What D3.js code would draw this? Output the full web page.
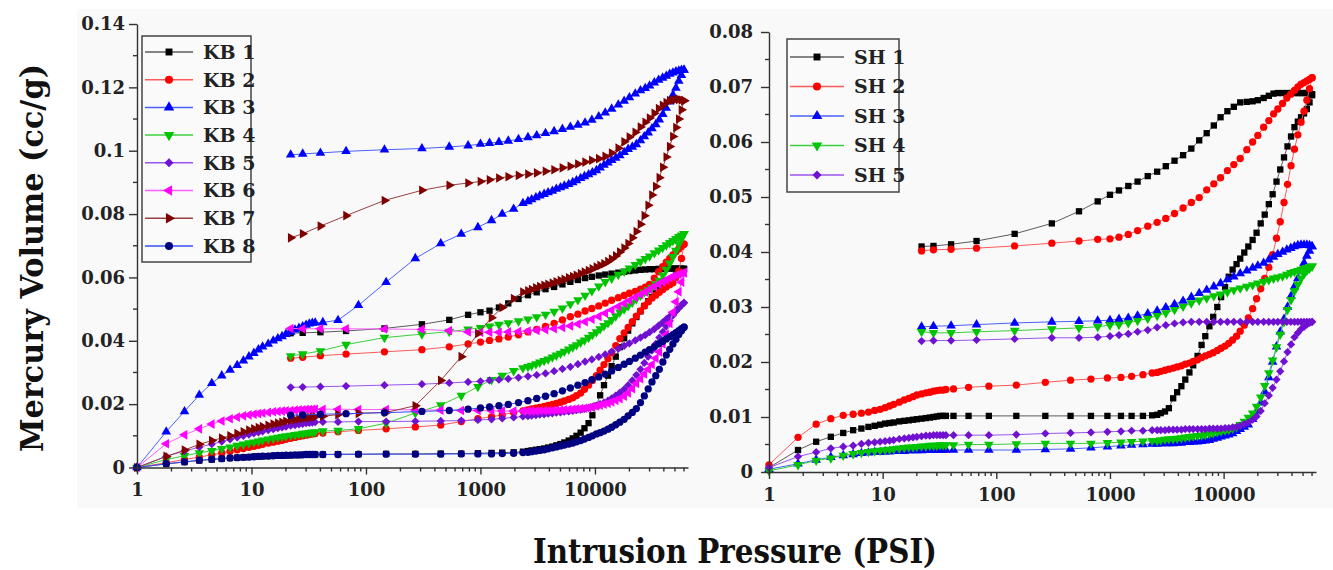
<!DOCTYPE html>
<html><head><meta charset="utf-8">
<script src="https://cdn.jsdelivr.net/npm/d3@7"></script>
<style>body{margin:0;background:#fff}</style>
</head><body>
<script>
// ---------- DATA ----------
// Intrusion pressures (psi), ascending
const P_IN = [1, 1.8, 2.6, 3.5, 4.5, 5.5, 6.5, 7.5, 8.5, 9.5, 10.5, 11.5, 12.5, 14, 15.5, 17, 18.5, 20, 22, 24, 26, 28, 30, 32, 34, 36,
  42, 57, 86, 150, 270, 450, 680, 950, 1250, 1550, 1950,
  2350, 2600, 2800, 3050, 3300, 3600, 3900, 4250, 4600, 5000, 5400, 5900, 6400, 6900, 7500, 8100, 8800, 9500, 10300, 11100, 12000,
  13000, 14000, 15200, 16500, 18000, 19500, 21200, 23000, 25000, 27000, 29200, 31500, 34000, 36500, 39200, 42000, 45000, 48000, 51000, 54000, 57000, 60000];
// Extrusion pressures (psi), descending
const P_EX = [60000, 57000, 54000, 51000, 48000, 45000, 42000, 39000, 36000, 33000, 30000, 27500, 25000, 22500, 20000, 18000, 16000, 14000, 12300, 10800,
  9400, 8200, 7100, 6100, 5200, 4400, 3700, 3100, 2600, 2150, 1750, 1450, 1200, 1000, 780, 534, 308, 145, 67, 40, 28, 22];

const KB_NAMES = ["KB 1", "KB 2", "KB 3", "KB 4", "KB 5", "KB 6", "KB 7", "KB 8"];
const SH_NAMES = ["SH 1", "SH 2", "SH 3", "SH 4", "SH 5"];

const KB1_IN = [0, 0.0011, 0.0017, 0.0022, 0.0025, 0.0028, 0.003, 0.0031, 0.0032, 0.0033, 0.0034, 0.0035, 0.0035, 0.0036, 0.0037, 0.0037, 0.0038, 0.0038, 0.0039, 0.0039, 0.0039, 0.004, 0.004, 0.004, 0.004, 0.0041,
  0.0041, 0.0042, 0.0042, 0.0043, 0.0043, 0.0044, 0.0044, 0.0045, 0.0046, 0.0047, 0.0048,
  0.005, 0.0052, 0.0054, 0.0056, 0.0058, 0.006, 0.0063, 0.0066, 0.007, 0.0074, 0.0079, 0.0085, 0.0092, 0.01, 0.011, 0.0124, 0.014, 0.0165, 0.0195, 0.0228, 0.026,
  0.029, 0.032, 0.035, 0.038, 0.0408, 0.0432, 0.0455, 0.0475, 0.0493, 0.051, 0.0525, 0.0538, 0.055, 0.056, 0.057, 0.058, 0.059, 0.0598, 0.0606, 0.0613, 0.062, 0.0627];
const KB1_EX = [0.0627, 0.0628, 0.0628, 0.0628, 0.0628, 0.0628, 0.0628, 0.0627, 0.0627, 0.0626, 0.0626, 0.0625, 0.0624, 0.0622, 0.062, 0.0618, 0.0615, 0.0612, 0.0609, 0.0606,
  0.0602, 0.0598, 0.0592, 0.0586, 0.0578, 0.057, 0.0563, 0.0553, 0.0544, 0.0532, 0.0518, 0.0505, 0.0495, 0.049, 0.0482, 0.0466, 0.0452, 0.0439, 0.0431, 0.0427, 0.0425, 0.0424];

const KB2_IN = [0, 0.0015, 0.0025, 0.0033, 0.004, 0.0046, 0.0051, 0.0056, 0.006, 0.0064, 0.0067, 0.007, 0.0073, 0.0077, 0.008, 0.0083, 0.0086, 0.0089, 0.0092, 0.0095, 0.0098, 0.01, 0.0102, 0.0104, 0.0106, 0.0107,
  0.0109, 0.0113, 0.0117, 0.0122, 0.0128, 0.0134, 0.0145, 0.0154, 0.016, 0.0166, 0.0174,
  0.0179, 0.0182, 0.0185, 0.0187, 0.019, 0.0193, 0.0196, 0.0199, 0.0202, 0.0206, 0.021, 0.0215, 0.022, 0.0227, 0.0235, 0.0247, 0.026, 0.0275, 0.029, 0.0307, 0.0325,
  0.0343, 0.0362, 0.0385, 0.0407, 0.0425, 0.0442, 0.046, 0.0478, 0.0494, 0.051, 0.0523, 0.0535, 0.0544, 0.0553, 0.0562, 0.057, 0.0577, 0.0583, 0.06, 0.062, 0.066, 0.0705];
const KB2_EX = [0.0705, 0.0698, 0.069, 0.0681, 0.0671, 0.066, 0.0648, 0.0634, 0.0618, 0.0598, 0.0578, 0.0569, 0.0563, 0.0556, 0.055, 0.0543, 0.0536, 0.0528, 0.0519, 0.051,
  0.0502, 0.0494, 0.0484, 0.0476, 0.0466, 0.0455, 0.0445, 0.0436, 0.0428, 0.0419, 0.0412, 0.0406, 0.0401, 0.0396, 0.039, 0.0381, 0.0372, 0.0365, 0.0358, 0.0353, 0.0348, 0.0345];

const KB3_IN = [0, 0.0113, 0.0177, 0.0229, 0.0266, 0.029, 0.0308, 0.0323, 0.0337, 0.035, 0.0361, 0.0372, 0.0381, 0.039, 0.04, 0.0407, 0.0414, 0.0421, 0.0428, 0.0435, 0.044, 0.0445, 0.045, 0.0454, 0.0456, 0.0457,
  0.0458, 0.0465, 0.0512, 0.0585, 0.066, 0.0707, 0.0737, 0.0758, 0.078, 0.08, 0.0816,
  0.0834, 0.084, 0.0846, 0.0852, 0.0858, 0.0863, 0.0868, 0.0873, 0.0879, 0.0884, 0.0889, 0.0894, 0.09, 0.0906, 0.0913, 0.0919, 0.0925, 0.0931, 0.0938, 0.0946, 0.0955,
  0.0962, 0.097, 0.0977, 0.0985, 0.0995, 0.1005, 0.1012, 0.102, 0.1032, 0.1045, 0.1057, 0.107, 0.1083, 0.1098, 0.1115, 0.1135, 0.1155, 0.1176, 0.1198, 0.122, 0.1238, 0.1255];
const KB3_EX = [0.1255, 0.1255, 0.1252, 0.125, 0.1246, 0.1242, 0.1236, 0.123, 0.1223, 0.1215, 0.1205, 0.1197, 0.119, 0.118, 0.1168, 0.1157, 0.1145, 0.1132, 0.112, 0.1108,
  0.1097, 0.1088, 0.1081, 0.1075, 0.1068, 0.1061, 0.1055, 0.1048, 0.1042, 0.1036, 0.1031, 0.1027, 0.1024, 0.1021, 0.1016, 0.1012, 0.1007, 0.1003, 0.0998, 0.0993, 0.099, 0.0987];

const KB4_IN = [0, 0.0025, 0.0037, 0.0046, 0.0053, 0.0059, 0.0064, 0.0069, 0.0073, 0.0077, 0.008, 0.0083, 0.0086, 0.0089, 0.0092, 0.0095, 0.0097, 0.0099, 0.0101, 0.0103, 0.0105, 0.0107, 0.0108, 0.011, 0.0111, 0.0112,
  0.0115, 0.0117, 0.0122, 0.014, 0.0172, 0.0197, 0.0227, 0.0255, 0.0277, 0.029, 0.0305,
  0.0314, 0.0318, 0.0322, 0.0327, 0.0332, 0.0337, 0.0342, 0.0348, 0.0354, 0.036, 0.0366, 0.0373, 0.038, 0.0387, 0.0395, 0.0402, 0.041, 0.0419, 0.0428, 0.0437, 0.0447,
  0.0456, 0.0466, 0.0478, 0.049, 0.05, 0.051, 0.0521, 0.0532, 0.0543, 0.0553, 0.056, 0.0568, 0.0579, 0.059, 0.0607, 0.0625, 0.0645, 0.0665, 0.0685, 0.0705, 0.0722, 0.0738];
const KB4_EX = [0.0738, 0.0733, 0.0728, 0.0722, 0.0716, 0.0709, 0.0702, 0.0694, 0.0686, 0.0677, 0.0667, 0.0659, 0.065, 0.064, 0.0629, 0.0619, 0.0609, 0.0597, 0.0586, 0.0572,
  0.0557, 0.0543, 0.0529, 0.0516, 0.0503, 0.0492, 0.0483, 0.0475, 0.0468, 0.0462, 0.0456, 0.0451, 0.0446, 0.0441, 0.0436, 0.0429, 0.0421, 0.041, 0.0388, 0.0368, 0.0358, 0.0352];

const KB5_IN = [0, 0.0035, 0.0052, 0.0064, 0.0074, 0.0082, 0.0089, 0.0095, 0.01, 0.0104, 0.0108, 0.0111, 0.0114, 0.0118, 0.0121, 0.0124, 0.0127, 0.0129, 0.0132, 0.0134, 0.0136, 0.0138, 0.014, 0.0141, 0.0142, 0.0143,
  0.0144, 0.0144, 0.0145, 0.0145, 0.0146, 0.0147, 0.0148, 0.015, 0.0152, 0.0155, 0.0158,
  0.0161, 0.0162, 0.0164, 0.0165, 0.0167, 0.0168, 0.017, 0.0171, 0.0173, 0.0174, 0.0176, 0.0177, 0.0179, 0.0181, 0.0183, 0.0185, 0.0188, 0.0191, 0.0195, 0.02, 0.0205,
  0.0211, 0.0218, 0.0227, 0.0236, 0.0247, 0.026, 0.0275, 0.0292, 0.031, 0.033, 0.035, 0.037, 0.039, 0.041, 0.0428, 0.0445, 0.0463, 0.048, 0.0493, 0.0505, 0.0513, 0.052];
const KB5_EX = [0.052, 0.0512, 0.0503, 0.0495, 0.0486, 0.0477, 0.0468, 0.0458, 0.0448, 0.0437, 0.0427, 0.0418, 0.041, 0.0401, 0.0392, 0.0384, 0.0375, 0.0366, 0.0357, 0.0349,
  0.0341, 0.0334, 0.0326, 0.0318, 0.0311, 0.0304, 0.0297, 0.0292, 0.0288, 0.0284, 0.028, 0.0277, 0.0275, 0.0272, 0.027, 0.0267, 0.0263, 0.026, 0.0257, 0.0255, 0.0254, 0.0253];

const KB6_IN = [0, 0.0075, 0.0103, 0.0122, 0.0137, 0.0147, 0.0154, 0.0159, 0.0163, 0.0166, 0.0168, 0.017, 0.0172, 0.0174, 0.0176, 0.0177, 0.0178, 0.0179, 0.018, 0.0181, 0.0182, 0.0182, 0.0183, 0.0183, 0.0184, 0.0184,
  0.0184, 0.0184, 0.0183, 0.0183, 0.0182, 0.0181, 0.018, 0.018, 0.0179, 0.0178, 0.0178,
  0.0178, 0.0178, 0.0178, 0.0178, 0.0179, 0.0179, 0.018, 0.018, 0.0181, 0.0181, 0.0182, 0.0183, 0.0184, 0.0185, 0.0186, 0.0187, 0.0189, 0.0191, 0.0194, 0.0197, 0.02,
  0.0203, 0.0207, 0.0212, 0.0217, 0.0225, 0.0235, 0.0249, 0.0265, 0.028, 0.0295, 0.031, 0.0325, 0.0345, 0.0365, 0.039, 0.042, 0.0455, 0.049, 0.0523, 0.0555, 0.0585, 0.0615];
const KB6_EX = [0.0615, 0.0613, 0.061, 0.0607, 0.0603, 0.0598, 0.0592, 0.0586, 0.0579, 0.0571, 0.0562, 0.0554, 0.0546, 0.0537, 0.0527, 0.0518, 0.0508, 0.0497, 0.0487, 0.0477,
  0.0468, 0.046, 0.0453, 0.0447, 0.0442, 0.0438, 0.0435, 0.0433, 0.0431, 0.0429, 0.0428, 0.0427, 0.0427, 0.0427, 0.0428, 0.0432, 0.0436, 0.0437, 0.0438, 0.0438, 0.0438, 0.0439];

const KB7_IN = [0, 0.0035, 0.0055, 0.0073, 0.0085, 0.0093, 0.01, 0.0107, 0.0113, 0.0118, 0.0122, 0.0126, 0.0129, 0.0133, 0.0137, 0.014, 0.0143, 0.0146, 0.0149, 0.0151, 0.0153, 0.0155, 0.0157, 0.0158, 0.0159, 0.016,
  0.0162, 0.0167, 0.0171, 0.0174, 0.0195, 0.0275, 0.035, 0.0423, 0.0473, 0.0505, 0.0533,
  0.0554, 0.0558, 0.0562, 0.0567, 0.0571, 0.0575, 0.0578, 0.0582, 0.0586, 0.059, 0.0594, 0.0599, 0.0603, 0.0607, 0.0612, 0.0617, 0.0622, 0.0627, 0.0633, 0.0638, 0.0643,
  0.065, 0.0658, 0.0668, 0.068, 0.0693, 0.0707, 0.0725, 0.0745, 0.0768, 0.0795, 0.0828, 0.086, 0.0887, 0.0915, 0.0948, 0.098, 0.1013, 0.1045, 0.1073, 0.11, 0.1129, 0.1158];
const KB7_EX = [0.1158, 0.116, 0.1162, 0.1162, 0.116, 0.1158, 0.1152, 0.1143, 0.1133, 0.1118, 0.1103, 0.109, 0.1075, 0.1058, 0.1043, 0.1028, 0.1008, 0.0993, 0.0982, 0.0975,
  0.097, 0.0964, 0.0958, 0.0951, 0.0946, 0.094, 0.0935, 0.093, 0.0926, 0.0922, 0.0918, 0.0914, 0.0908, 0.0903, 0.0898, 0.0891, 0.0875, 0.0843, 0.0795, 0.0762, 0.0738, 0.0725];

const KB8_IN = [0, 0.0012, 0.0018, 0.0023, 0.0026, 0.0028, 0.003, 0.0031, 0.0032, 0.0033, 0.0034, 0.0035, 0.0036, 0.0036, 0.0037, 0.0038, 0.0038, 0.0039, 0.0039, 0.004, 0.004, 0.004, 0.0041, 0.0041, 0.0041, 0.0041,
  0.0041, 0.0041, 0.0042, 0.0042, 0.0042, 0.0042, 0.0043, 0.0043, 0.0043, 0.0044, 0.0045,
  0.0047, 0.0048, 0.005, 0.0052, 0.0054, 0.0056, 0.0059, 0.0062, 0.0065, 0.0068, 0.0071, 0.0074, 0.0077, 0.0081, 0.0085, 0.009, 0.0095, 0.01, 0.0106, 0.011, 0.0115,
  0.0121, 0.0127, 0.0135, 0.0143, 0.0152, 0.0163, 0.0174, 0.0186, 0.0205, 0.0226, 0.0248, 0.027, 0.029, 0.031, 0.0333, 0.0355, 0.0373, 0.039, 0.0405, 0.042, 0.0432, 0.0443];
const KB8_EX = [0.0443, 0.0438, 0.0432, 0.0426, 0.0419, 0.0413, 0.0406, 0.0398, 0.039, 0.0381, 0.0372, 0.0364, 0.0355, 0.0345, 0.0335, 0.0326, 0.0316, 0.0305, 0.0295, 0.0286,
  0.0277, 0.0268, 0.026, 0.0251, 0.0242, 0.0233, 0.0225, 0.0218, 0.0211, 0.0205, 0.0199, 0.0195, 0.0191, 0.0188, 0.0184, 0.018, 0.0177, 0.0173, 0.017, 0.0168, 0.0166, 0.0165];

const SH1_IN = [0.0008, 0.004, 0.0055, 0.0064, 0.0071, 0.0076, 0.0079, 0.0082, 0.0084, 0.0086, 0.0088, 0.0089, 0.009, 0.0092, 0.0093, 0.0094, 0.0095, 0.0096, 0.0097, 0.0098, 0.0099, 0.01, 0.0101, 0.0102, 0.0102, 0.0102,
  0.0102, 0.0102, 0.0102, 0.0102, 0.0102, 0.0102, 0.0102, 0.0102, 0.0102, 0.0102, 0.0102,
  0.0103, 0.0104, 0.0107, 0.011, 0.0116, 0.0134, 0.0145, 0.0156, 0.0168, 0.0181, 0.0194, 0.0211, 0.0231, 0.0247, 0.0265, 0.0282, 0.03, 0.0318, 0.0336, 0.0355, 0.0368,
  0.0378, 0.0388, 0.0399, 0.041, 0.0422, 0.0435, 0.0452, 0.0468, 0.0487, 0.0505, 0.0528, 0.055, 0.0572, 0.0592, 0.061, 0.0627, 0.0637, 0.0645, 0.0652, 0.066, 0.0672, 0.0685];
const SH1_EX = [0.0687, 0.0688, 0.0689, 0.0689, 0.0689, 0.0689, 0.0689, 0.0689, 0.0689, 0.0689, 0.0689, 0.0688, 0.0684, 0.068, 0.0676, 0.0674, 0.0673, 0.0672, 0.0664, 0.0656,
  0.0645, 0.063, 0.0616, 0.0603, 0.0588, 0.0576, 0.0566, 0.0556, 0.0546, 0.0538, 0.0528, 0.052, 0.0512, 0.0504, 0.0492, 0.0474, 0.0452, 0.0433, 0.042, 0.0414, 0.0411, 0.041];

const SH2_IN = [0.0013, 0.0063, 0.0087, 0.0097, 0.0103, 0.0105, 0.0107, 0.0109, 0.0112, 0.0114, 0.0117, 0.012, 0.0123, 0.0127, 0.0131, 0.0134, 0.0137, 0.014, 0.0142, 0.0144, 0.0145, 0.0147, 0.0148, 0.0149, 0.0149, 0.015,
  0.0151, 0.0154, 0.0156, 0.0158, 0.0163, 0.0167, 0.0169, 0.0171, 0.0172, 0.0174, 0.0177,
  0.018, 0.0181, 0.0183, 0.0185, 0.0187, 0.0189, 0.0191, 0.0193, 0.0196, 0.0198, 0.0201, 0.0204, 0.0208, 0.0211, 0.0214, 0.0217, 0.0221, 0.0225, 0.0229, 0.0234, 0.024,
  0.0247, 0.0256, 0.0267, 0.028, 0.0297, 0.0315, 0.0333, 0.0352, 0.0372, 0.0395, 0.0425, 0.0455, 0.049, 0.0523, 0.0557, 0.0587, 0.0613, 0.0636, 0.0656, 0.0676, 0.0697, 0.0717];
const SH2_EX = [0.0717, 0.0714, 0.0711, 0.0708, 0.0705, 0.07, 0.0694, 0.0687, 0.068, 0.067, 0.066, 0.0651, 0.0639, 0.0627, 0.0612, 0.06, 0.0586, 0.057, 0.0559, 0.0548,
  0.0535, 0.0524, 0.0513, 0.0499, 0.049, 0.048, 0.047, 0.0461, 0.0454, 0.0447, 0.0439, 0.0432, 0.0427, 0.0424, 0.0423, 0.042, 0.0416, 0.0411, 0.0407, 0.0405, 0.0404, 0.0402];

const SH3_IN = [0.0005, 0.0015, 0.0022, 0.0027, 0.003, 0.0032, 0.0034, 0.0035, 0.0036, 0.0036, 0.0037, 0.0037, 0.0038, 0.0038, 0.0038, 0.0039, 0.0039, 0.0039, 0.0039, 0.004, 0.004, 0.004, 0.004, 0.004, 0.004, 0.004,
  0.004, 0.004, 0.004, 0.004, 0.0041, 0.0042, 0.0044, 0.0046, 0.0048, 0.0049, 0.005,
  0.0051, 0.0051, 0.0052, 0.0052, 0.0052, 0.0052, 0.0053, 0.0053, 0.0054, 0.0054, 0.0055, 0.0055, 0.0056, 0.0057, 0.0058, 0.006, 0.0062, 0.0064, 0.0066, 0.0068, 0.007,
  0.0074, 0.0078, 0.0082, 0.0086, 0.0096, 0.011, 0.0126, 0.0146, 0.0172, 0.02, 0.0228, 0.0255, 0.0278, 0.03, 0.032, 0.0337, 0.0352, 0.0367, 0.038, 0.0393, 0.0402, 0.041];
const SH3_EX = [0.041, 0.0412, 0.0413, 0.0413, 0.0413, 0.0412, 0.041, 0.0407, 0.0404, 0.04, 0.0396, 0.0391, 0.0386, 0.038, 0.0375, 0.0371, 0.0366, 0.0361, 0.0355, 0.035,
  0.0343, 0.0337, 0.0331, 0.0325, 0.0318, 0.0311, 0.0305, 0.0299, 0.0293, 0.0288, 0.0284, 0.028, 0.0278, 0.0276, 0.0275, 0.0274, 0.0273, 0.0271, 0.0268, 0.0266, 0.0265, 0.0264];

const SH4_IN = [0.0002, 0.0013, 0.0021, 0.0025, 0.003, 0.0033, 0.0035, 0.0037, 0.0038, 0.0039, 0.004, 0.0041, 0.0042, 0.0043, 0.0044, 0.0045, 0.0045, 0.0046, 0.0047, 0.0047, 0.0048, 0.0048, 0.0048, 0.0049, 0.0049, 0.0049,
  0.0049, 0.005, 0.005, 0.0051, 0.0052, 0.0052, 0.0052, 0.0053, 0.0054, 0.0055, 0.0056,
  0.0057, 0.0057, 0.0058, 0.0059, 0.006, 0.006, 0.0061, 0.0062, 0.0063, 0.0064, 0.0065, 0.0066, 0.0067, 0.0068, 0.007, 0.0071, 0.0073, 0.0074, 0.0076, 0.0077, 0.0079,
  0.0082, 0.0086, 0.0092, 0.0099, 0.0107, 0.0119, 0.0136, 0.0157, 0.018, 0.0203, 0.0227, 0.025, 0.0273, 0.0295, 0.0313, 0.0329, 0.0341, 0.0352, 0.036, 0.0366, 0.037, 0.0374];
const SH4_EX = [0.0374, 0.0373, 0.0371, 0.037, 0.0368, 0.0366, 0.0364, 0.0362, 0.0359, 0.0356, 0.0354, 0.0352, 0.0349, 0.0346, 0.0343, 0.034, 0.0337, 0.0334, 0.0331, 0.0327,
  0.0323, 0.032, 0.0316, 0.0312, 0.0307, 0.0301, 0.0295, 0.0289, 0.0284, 0.0279, 0.0275, 0.0271, 0.0268, 0.0267, 0.0264, 0.0262, 0.026, 0.0257, 0.0255, 0.0253, 0.0253, 0.0255];

const SH5_IN = [0.0008, 0.0028, 0.0036, 0.0043, 0.0046, 0.0048, 0.0051, 0.0053, 0.0054, 0.0055, 0.0056, 0.0057, 0.0058, 0.006, 0.0061, 0.0062, 0.0063, 0.0064, 0.0065, 0.0066, 0.0066, 0.0067, 0.0067, 0.0067, 0.0067, 0.0067,
  0.0067, 0.0067, 0.0067, 0.0068, 0.007, 0.0071, 0.0072, 0.0073, 0.0074, 0.0075, 0.0075,
  0.0076, 0.0076, 0.0076, 0.0076, 0.0077, 0.0077, 0.0077, 0.0077, 0.0078, 0.0078, 0.0078, 0.0078, 0.0078, 0.0078, 0.0079, 0.0079, 0.0079, 0.0079, 0.008, 0.008, 0.0081,
  0.0082, 0.0084, 0.0087, 0.009, 0.0095, 0.0101, 0.0111, 0.0125, 0.0139, 0.0153, 0.0168, 0.0183, 0.0201, 0.0218, 0.0232, 0.0245, 0.0253, 0.026, 0.0264, 0.0268, 0.0271, 0.0273];
const SH5_EX = [0.0273, 0.0273, 0.0273, 0.0273, 0.0273, 0.0273, 0.0273, 0.0273, 0.0273, 0.0273, 0.0273, 0.0273, 0.0273, 0.0273, 0.0273, 0.0273, 0.0273, 0.0273, 0.0273, 0.0273,
  0.0273, 0.0273, 0.0273, 0.0273, 0.0273, 0.0272, 0.027, 0.0267, 0.0263, 0.0258, 0.0255, 0.0251, 0.0249, 0.0247, 0.0245, 0.0244, 0.0244, 0.0242, 0.024, 0.0239, 0.0239, 0.0238];

const KB_Y_TICKS = [0, 0.02, 0.04, 0.06, 0.08, 0.1, 0.12, 0.14];
const SH_Y_TICKS = [0, 0.01, 0.02, 0.03, 0.04, 0.05, 0.06, 0.07, 0.08];
const X_TICKS = [1, 10, 100, 1000, 10000];
const X_TICK_LABELS = ["1", "10", "100", "1000", "10000"];

// ---------- STYLE ----------
const FONT = "'DejaVu Serif', 'Liberation Serif', serif";
const STYLES = [
  {marker: "#000000", line: "#5c5c5c", sym: "square"},
  {marker: "#ff0000", line: "#ff5a5a", sym: "circle"},
  {marker: "#0000ff", line: "#4a62ff", sym: "tri"},
  {marker: "#00c400", line: "#3ccf3c", sym: "triDown"},
  {marker: "#7010d0", line: "#9a55ee", sym: "diamond"},
  {marker: "#ff00ff", line: "#ff5cff", sym: "triLeft"},
  {marker: "#800000", line: "#9a4040", sym: "triRight"},
  {marker: "#000080", line: "#3a4cff", sym: "circle"}
];
const SYM_GEN = {square: d3.symbolSquare, circle: d3.symbolCircle, tri: d3.symbolTriangle, triDown: d3.symbolTriangle, triLeft: d3.symbolTriangle, triRight: d3.symbolTriangle, diamond: d3.symbolSquare};
const SYM_SIZE = {square: 40, circle: 42, tri: 40, triDown: 40, triLeft: 40, triRight: 40, diamond: 34};
const SYM_ROT = {square: 0, circle: 0, tri: 0, triDown: 180, triLeft: -90, triRight: 90, diamond: 45};

const svg = d3.select("body").append("svg").attr("width", 1333).attr("height", 570).style("display", "block");
svg.append("rect").attr("x", 77).attr("y", 9).attr("width", 1256).attr("height", 499).attr("fill", "#f9f9f9");

function drawPanel(o) {
  const x = d3.scaleLog().domain([1, 65000]).range([o.x0, o.x1]);
  const y = d3.scaleLinear().domain([0, o.ymax]).range([o.y0, o.y1]);
  const g = svg.append("g");
  o.series.forEach((s, i) => {
    const st = STYLES[i];
    const pts = P_IN.map((p, j) => [p, s.vin[j]]).concat(P_EX.map((p, j) => [p, s.vex[j]]));
    const sg = g.append("g");
    sg.append("path").attr("d", d3.line().x(d => x(d[0])).y(d => y(d[1]))(pts))
      .attr("fill", "none").attr("stroke", st.line).attr("stroke-width", 1);
    const sp = d3.symbol(SYM_GEN[st.sym], SYM_SIZE[st.sym])();
    sg.selectAll(null).data(pts).join("path").attr("d", sp)
      .attr("transform", d => `translate(${x(d[0])},${y(d[1])}) rotate(${SYM_ROT[st.sym]})`)
      .attr("fill", st.marker);
  });

  // axes
  const ya = svg.append("g").attr("transform", `translate(${o.x0},0)`)
    .call(d3.axisLeft(y).tickValues(o.yticks).tickFormat(d3.format("~g")).tickSize(8).tickPadding(o.ypad).tickSizeOuter(0));
  const yMinor = o.yticks.slice(0, -1).map(v => v + o.ystep / 2);
  ya.selectAll(".minor").data(yMinor).join("line").attr("class", "minor")
    .attr("x1", 0).attr("x2", -4).attr("y1", d => y(d)).attr("y2", d => y(d));
  const xa = svg.append("g").attr("transform", `translate(0,${o.y0})`)
    .call(d3.axisBottom(x).tickValues(X_TICKS).tickFormat((d, i) => X_TICK_LABELS[i]).tickSize(7).tickPadding(9).tickSizeOuter(0));
  const xMinor = [];
  [1, 10, 100, 1000, 10000].forEach(dec => { for (let k = 2; k <= 9; k++) { const v = dec * k; if (v <= 60000) xMinor.push(v); } });
  xa.selectAll(".minor").data(xMinor).join("line").attr("class", "minor")
    .attr("y1", 0).attr("y2", 4).attr("x1", d => x(d)).attr("x2", d => x(d));
  [ya, xa].forEach(a => {
    a.selectAll("path.domain, line").attr("stroke", "#333").attr("stroke-width", 1.4);
    a.selectAll("text").attr("font-family", FONT).attr("font-weight", "bold").attr("font-size", 18).attr("fill", "#222");
  });

  // legend
  const L = o.legend;
  svg.append("rect").attr("x", L.x).attr("y", L.y).attr("width", L.w).attr("height", L.h)
    .attr("fill", "#fafafa").attr("stroke", "#444").attr("stroke-width", 1.5);
  o.series.forEach((s, i) => {
    const st = STYLES[i];
    const cy = L.r0 + i * L.dr;
    svg.append("line").attr("x1", L.x + 3).attr("x2", L.x + L.lineW).attr("y1", cy).attr("y2", cy)
      .attr("stroke", st.line).attr("stroke-width", 1.5);
    svg.append("path").attr("d", d3.symbol(SYM_GEN[st.sym], SYM_SIZE[st.sym] * 1.2)())
      .attr("transform", `translate(${L.x + 3 + (L.lineW - 3) / 2},${cy}) rotate(${SYM_ROT[st.sym]})`).attr("fill", st.marker);
    svg.append("text").attr("x", L.x + L.lineW + 10).attr("y", cy).attr("dy", "0.36em")
      .attr("font-family", FONT).attr("font-weight", "bold").attr("font-size", 19).attr("fill", "#222").text(s.name);
  });
}

const KB_SERIES = [
  {name: KB_NAMES[0], vin: KB1_IN, vex: KB1_EX}, {name: KB_NAMES[1], vin: KB2_IN, vex: KB2_EX},
  {name: KB_NAMES[2], vin: KB3_IN, vex: KB3_EX}, {name: KB_NAMES[3], vin: KB4_IN, vex: KB4_EX},
  {name: KB_NAMES[4], vin: KB5_IN, vex: KB5_EX}, {name: KB_NAMES[5], vin: KB6_IN, vex: KB6_EX},
  {name: KB_NAMES[6], vin: KB7_IN, vex: KB7_EX}, {name: KB_NAMES[7], vin: KB8_IN, vex: KB8_EX}
];
const SH_SERIES = [
  {name: SH_NAMES[0], vin: SH1_IN, vex: SH1_EX}, {name: SH_NAMES[1], vin: SH2_IN, vex: SH2_EX},
  {name: SH_NAMES[2], vin: SH3_IN, vex: SH3_EX}, {name: SH_NAMES[3], vin: SH4_IN, vex: SH4_EX},
  {name: SH_NAMES[4], vin: SH5_IN, vex: SH5_EX}
];

drawPanel({x0: 137, x1: 688, y0: 467.5, y1: 24, ymax: 0.14, yticks: KB_Y_TICKS, ystep: 0.02, ypad: 4,
  series: KB_SERIES, legend: {x: 142, y: 36, w: 109, h: 226, r0: 52, dr: 27.7, lineW: 51}});
drawPanel({x0: 769, x1: 1316, y0: 472, y1: 32, ymax: 0.08, yticks: SH_Y_TICKS, ystep: 0.01, ypad: 8,
  series: SH_SERIES, legend: {x: 787, y: 39, w: 112, h: 153, r0: 57, dr: 29.5, lineW: 57}});

// axis titles
svg.append("text").attr("x", 735).attr("y", 563).attr("text-anchor", "middle")
  .attr("font-family", FONT).attr("font-weight", "bold").attr("font-size", 33).attr("fill", "#111")
  .attr("textLength", 404).attr("lengthAdjust", "spacingAndGlyphs").text("Intrusion Pressure (PSI)");
svg.append("text").attr("transform", "translate(43,258) rotate(-90)").attr("text-anchor", "middle")
  .attr("font-family", FONT).attr("font-weight", "bold").attr("font-size", 32).attr("fill", "#111")
  .attr("textLength", 388).attr("lengthAdjust", "spacingAndGlyphs").text("Mercury Volume (cc/g)");
</script>
</body></html>
